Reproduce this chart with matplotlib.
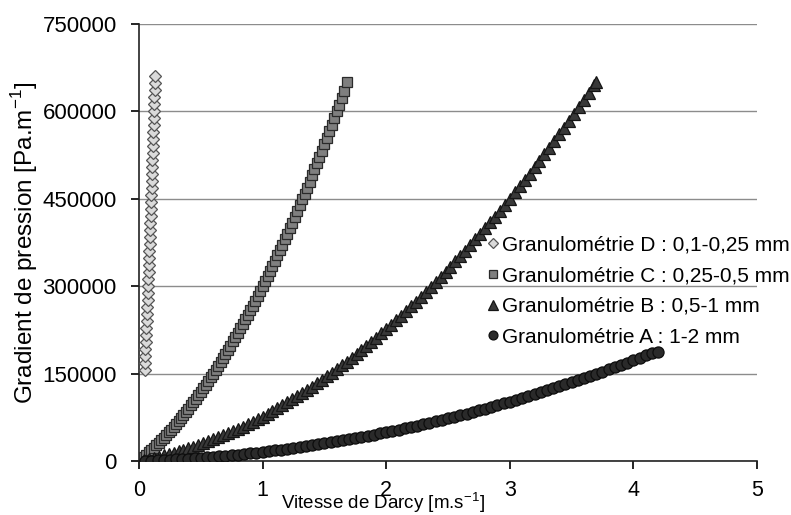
import matplotlib
matplotlib.use("Agg")
import matplotlib.pyplot as plt

# Granulométrie D : 0,1-0,25 mm
vitesse_d = [0.045, 0.048, 0.050, 0.052, 0.055, 0.057, 0.060, 0.062, 0.065, 0.067,
             0.069, 0.071, 0.074, 0.076, 0.078, 0.080, 0.082, 0.084, 0.086, 0.088,
             0.091, 0.093, 0.094, 0.096, 0.098, 0.100, 0.102, 0.104, 0.105, 0.107,
             0.109, 0.111, 0.112, 0.114, 0.116, 0.118, 0.119, 0.121, 0.123, 0.124,
             0.126, 0.127, 0.129]
gradient_d = [156000, 168000, 180000, 192000, 204000, 216000, 228000, 240000, 252000, 264000,
              276000, 288000, 300000, 312000, 324000, 336000, 348000, 360000, 372000, 384000,
              396000, 408000, 420000, 432000, 444000, 456000, 468000, 480000, 492000, 504000,
              516000, 528000, 540000, 552000, 564000, 576000, 588000, 600000, 612000, 624000,
              636000, 648000, 660000]

# Granulométrie C : 0,25-0,5 mm
vitesse_c = [0.02, 0.04, 0.06, 0.08, 0.10, 0.12, 0.14, 0.16, 0.18, 0.20,
             0.22, 0.24, 0.26, 0.28, 0.30, 0.32, 0.34, 0.36, 0.38, 0.40,
             0.42, 0.44, 0.46, 0.48, 0.50, 0.52, 0.54, 0.56, 0.58, 0.60,
             0.62, 0.64, 0.66, 0.68, 0.70, 0.72, 0.74, 0.76, 0.78, 0.80,
             0.82, 0.84, 0.86, 0.88, 0.90, 0.92, 0.94, 0.96, 0.98, 1.00,
             1.02, 1.04, 1.06, 1.08, 1.10, 1.12, 1.14, 1.16, 1.18, 1.20,
             1.22, 1.24, 1.26, 1.28, 1.30, 1.32, 1.34, 1.36, 1.38, 1.40,
             1.42, 1.44, 1.46, 1.48, 1.50, 1.52, 1.54, 1.56, 1.58, 1.60,
             1.62, 1.64, 1.66, 1.68]
gradient_c = [3600, 7200, 11000, 14800, 18800, 22800, 27000, 31200, 35600, 40000,
              44600, 49200, 54000, 58800, 63800, 68800, 74000, 79200, 84600, 90000,
              95600, 101200, 107000, 112800, 118800, 124800, 131000, 137200, 143600, 150000,
              156600, 163200, 170000, 176800, 183800, 190800, 198000, 205200, 212600, 220000,
              227600, 235200, 243000, 250800, 258800, 266800, 275000, 283200, 291600, 300000,
              308600, 317200, 326000, 334800, 343800, 352800, 362000, 371200, 380600, 390000,
              399600, 409200, 419000, 428800, 438800, 448800, 459000, 469200, 479600, 490000,
              500600, 511200, 522000, 532800, 543800, 554800, 566000, 577200, 588600, 600000,
              611600, 623200, 635000, 650000]

# Granulométrie B : 0,5-1 mm
vitesse_b = [0.04, 0.08, 0.12, 0.16, 0.20, 0.24, 0.28, 0.32, 0.36, 0.40,
             0.44, 0.48, 0.52, 0.56, 0.60, 0.64, 0.68, 0.72, 0.76, 0.80,
             0.84, 0.88, 0.92, 0.96, 1.00, 1.04, 1.08, 1.12, 1.16, 1.20,
             1.24, 1.28, 1.32, 1.36, 1.40, 1.44, 1.48, 1.52, 1.56, 1.60,
             1.64, 1.68, 1.72, 1.76, 1.80, 1.84, 1.88, 1.92, 1.96, 2.00,
             2.04, 2.08, 2.12, 2.16, 2.20, 2.24, 2.28, 2.32, 2.36, 2.40,
             2.44, 2.48, 2.52, 2.56, 2.60, 2.64, 2.68, 2.72, 2.76, 2.80,
             2.84, 2.88, 2.92, 2.96, 3.00, 3.04, 3.08, 3.12, 3.16, 3.20,
             3.24, 3.28, 3.32, 3.36, 3.40, 3.44, 3.48, 3.52, 3.56, 3.60,
             3.64, 3.68, 3.70]
gradient_b = [1600, 3400, 5300, 7300, 9400, 11600, 13900, 16400, 19000, 21700,
              24500, 27400, 30500, 33600, 36900, 40300, 43900, 47500, 51300, 55100,
              59100, 63300, 67500, 71800, 76300, 80900, 85600, 90400, 95400, 100400,
              105600, 110900, 116300, 121800, 127500, 133300, 139100, 145100, 151300, 157500,
              163900, 170300, 176900, 183600, 190500, 197400, 204500, 211700, 219000, 226400,
              233900, 241600, 249400, 257300, 265300, 273400, 281700, 290000, 298500, 307100,
              315800, 324700, 333600, 342700, 351900, 361200, 370600, 380200, 389800, 399600,
              409500, 419500, 429700, 439900, 450300, 460800, 471400, 482100, 493000, 503900,
              515000, 526200, 537500, 549000, 560500, 572200, 584000, 595900, 607900, 620100,
              632300, 644700, 651000]

# Granulométrie A : 1-2 mm
vitesse_a = [0.05, 0.10, 0.15, 0.20, 0.25, 0.30, 0.35, 0.40, 0.45, 0.50,
             0.55, 0.60, 0.65, 0.70, 0.75, 0.80, 0.85, 0.90, 0.95, 1.00,
             1.05, 1.10, 1.15, 1.20, 1.25, 1.30, 1.35, 1.40, 1.45, 1.50,
             1.55, 1.60, 1.65, 1.70, 1.75, 1.80, 1.85, 1.90, 1.95, 2.00,
             2.05, 2.10, 2.15, 2.20, 2.25, 2.30, 2.35, 2.40, 2.45, 2.50,
             2.55, 2.60, 2.65, 2.70, 2.75, 2.80, 2.85, 2.90, 2.95, 3.00,
             3.05, 3.10, 3.15, 3.20, 3.25, 3.30, 3.35, 3.40, 3.45, 3.50,
             3.55, 3.60, 3.65, 3.70, 3.75, 3.80, 3.85, 3.90, 3.95, 4.00,
             4.05, 4.10, 4.15, 4.20]
gradient_a = [300, 700, 1100, 1600, 2100, 2700, 3300, 3900, 4600, 5400,
              6200, 7000, 7900, 8800, 9800, 10800, 11900, 13000, 14200, 15400,
              16600, 18000, 19300, 20700, 22100, 23600, 25200, 26700, 28400, 30100,
              31800, 33500, 35400, 37200, 39100, 41100, 43100, 45100, 47200, 49400,
              51500, 53800, 56100, 58400, 60800, 63200, 65600, 68200, 70700, 73300,
              76000, 78700, 81400, 84200, 87000, 89900, 92800, 95800, 98800, 101900,
              105000, 108200, 111400, 114700, 118000, 121300, 124700, 128100, 131600, 135200,
              138700, 142400, 146000, 149800, 153500, 157300, 161200, 165100, 169000, 173000,
              177100, 181200, 185300, 187000]

legende = ["Granulométrie D : 0,1-0,25 mm",
           "Granulométrie C : 0,25-0,5 mm",
           "Granulométrie B : 0,5-1 mm",
           "Granulométrie A : 1-2 mm"]

plt.rcParams['font.family'] = ['Liberation Sans', 'DejaVu Sans']

fig = plt.figure(figsize=(7.91, 5.15), dpi=100)
ax = fig.add_axes([0.1757, 0.1049, 0.7813, 0.8485])

ax.plot(vitesse_d, gradient_d, ls='none', marker='D', ms=6, mfc='#dadada', mec='#555555', mew=0.9, label=legende[0], zorder=3)
ax.plot(vitesse_c, gradient_c, ls='none', marker='s', ms=7, mfc='#7f7f7f', mec='#2a2a2a', mew=0.9, label=legende[1], zorder=3)
ax.plot(vitesse_b, gradient_b, ls='none', marker='^', ms=9, mfc='#383838', mec='#151515', mew=0.9, label=legende[2], zorder=3)
ax.plot(vitesse_a, gradient_a, ls='none', marker='o', ms=8, mfc='#2a2a2a', mec='#0d0d0d', mew=0.9, label=legende[3], zorder=3)

ax.set_xlim(0, 5)
ax.set_ylim(0, 750000)
ax.set_xticks([0, 1, 2, 3, 4, 5])
ax.set_yticks([0, 150000, 300000, 450000, 600000, 750000])
ax.yaxis.grid(True, color='#8c8c8c', lw=1)
ax.set_axisbelow(True)

for s in ['top', 'right']:
    ax.spines[s].set_visible(False)
ax.spines['left'].set_color('#222222')
ax.spines['bottom'].set_color('#222222')
ax.spines['left'].set_linewidth(1.2)
ax.spines['bottom'].set_linewidth(1.2)
ax.tick_params(axis='y', direction='out', length=6, width=1.2, labelsize=16, pad=10)
ax.tick_params(axis='x', direction='out', length=6, width=1.2, labelsize=15.5, pad=8)

ax.set_ylabel('Gradient de pression [Pa.m$^{\\mathregular{-1}}$]', fontsize=17.5, labelpad=2)
ax.set_xlabel('Vitesse de Darcy [m.s$^{\\mathregular{-1}}$]', fontsize=13.5)
ax.xaxis.set_label_coords(0.395, -0.068)

leg = ax.legend(loc='upper left', bbox_to_anchor=(0.551, 0.535), frameon=False,
                prop=dict(size=15), handlelength=0.5, handletextpad=0.2,
                labelspacing=0.56, markerscale=0.8, borderaxespad=0)

fig.savefig('out.png', dpi=100)
